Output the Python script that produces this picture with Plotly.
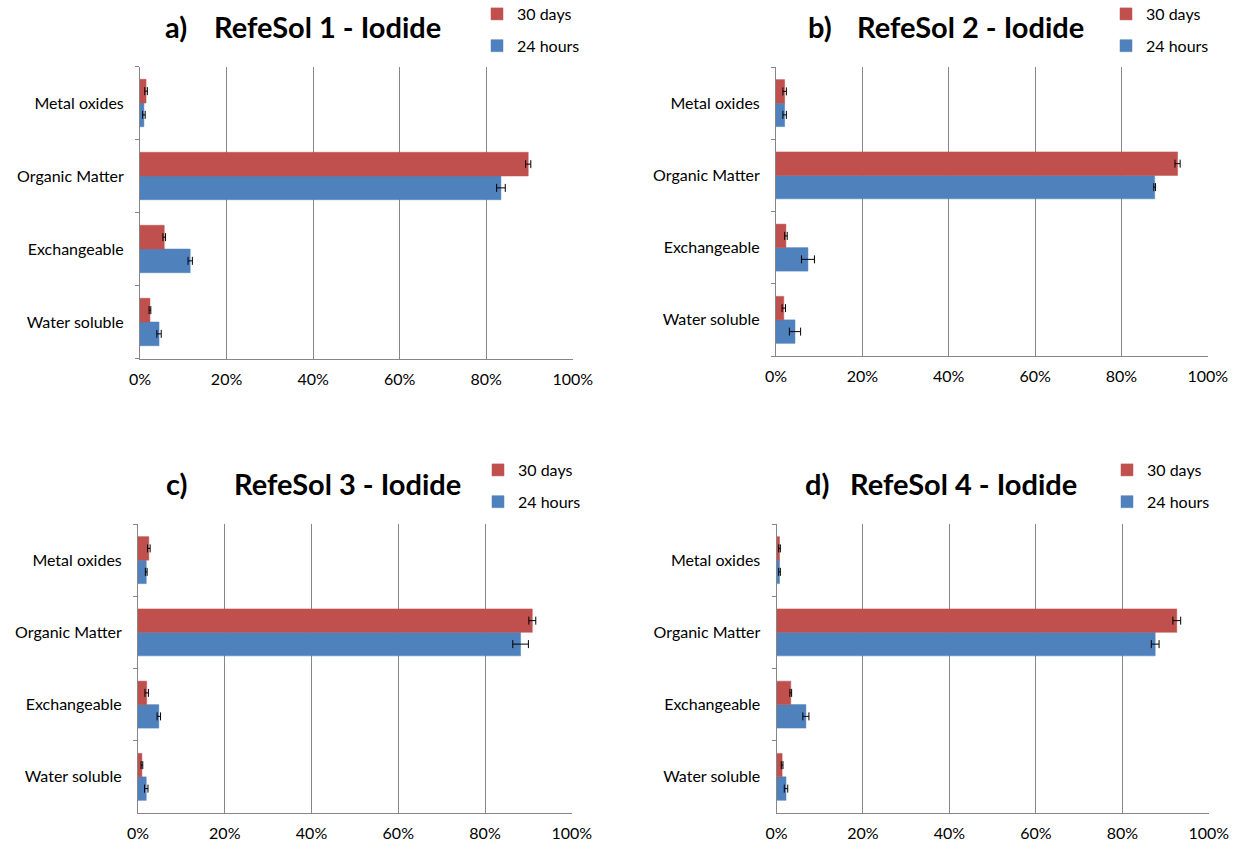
import plotly.graph_objects as go

W, H = 1245, 852

categories = ["Water soluble", "Exchangeable", "Organic Matter", "Metal oxides"]
series_names = ["24 hours", "30 days"]
panel_letters = ["a)", "b)", "c)", "d)"]
panel_titles = ["RefeSol 1 - Iodide", "RefeSol 2 - Iodide", "RefeSol 3 - Iodide", "RefeSol 4 - Iodide"]

# values in % (order follows categories)
a_24h = [4.4, 11.6, 83.4, 0.9]
a_30d = [2.3, 5.6, 89.7, 1.4]
a_24h_err = [0.5, 0.5, 1.0, 0.3]
a_30d_err = [0.2, 0.3, 0.6, 0.3]

b_24h = [4.4, 7.4, 87.7, 2.0]
b_30d = [1.8, 2.3, 93.0, 2.0]
b_24h_err = [1.3, 1.5, 0.2, 0.4]
b_30d_err = [0.4, 0.3, 0.6, 0.4]

c_24h = [1.9, 4.8, 88.2, 1.9]
c_30d = [0.9, 2.0, 90.9, 2.5]
c_24h_err = [0.4, 0.4, 1.8, 0.2]
c_30d_err = [0.2, 0.4, 0.8, 0.3]

d_24h = [2.2, 6.8, 87.6, 0.7]
d_30d = [1.3, 3.3, 92.6, 0.7]
d_24h_err = [0.4, 0.7, 0.9, 0.2]
d_30d_err = [0.2, 0.2, 0.9, 0.2]

x_ticks = [0, 20, 40, 60, 80, 100]
x_tick_labels = ["0%", "20%", "40%", "60%", "80%", "100%"]

panels = [
    (a_24h, a_24h_err, a_30d, a_30d_err),
    (b_24h, b_24h_err, b_30d, b_30d_err),
    (c_24h, c_24h_err, c_30d, c_30d_err),
    (d_24h, d_24h_err, d_30d, d_30d_err),
]

BLUE = "#4F81BD"
RED = "#C0504D"
GRID = "#868686"
FONT = "Lato"

# plot areas in pixels: (left, right, top, bottom)
boxes = [
    (140, 573, 66.5, 358.5),
    (776, 1208, 67, 356),
    (138, 572, 524, 813),
    (776.5, 1209, 524, 813),
]

fig = go.Figure()
layout = dict()
legend_keys = ["legend", "legend2", "legend3", "legend4"]
legend_pos = [(477, -3), (1106, -3), (478, 453), (1107, 453)]

for i, (v24, e24, v30, e30) in enumerate(panels):
    xa = "x" if i == 0 else f"x{i+1}"
    ya = "y" if i == 0 else f"y{i+1}"
    for name, vals, errs, col, grp, rank in [
        (series_names[0], v24, e24, BLUE, "g24", 2),
        (series_names[1], v30, e30, RED, "g30", 1),
    ]:
        fig.add_trace(go.Bar(
            y=categories, x=vals, orientation="h", name=name,
            marker=dict(color=col, line=dict(color=col, width=0.5)),
            error_x=dict(type="data", array=errs, visible=True,
                         color="#000000", thickness=1, width=4),
            xaxis=xa, yaxis=ya, legend=legend_keys[i], legendgroup=grp,
            legendrank=rank, showlegend=True,
        ))
    l, r, t, b = boxes[i]
    xk = "xaxis" if i == 0 else f"xaxis{i+1}"
    yk = "yaxis" if i == 0 else f"yaxis{i+1}"
    layout[xk] = dict(
        domain=[l / W, r / W], anchor=ya, range=[0, 100.05], automargin=False,
        tickmode="array", tickvals=x_ticks, ticktext=x_tick_labels,
        showgrid=True, gridcolor=GRID, gridwidth=1,
        showline=True, linecolor=GRID, linewidth=1, zeroline=False,
        ticks="", ticklabelstandoff=6,
        tickfont=dict(family=FONT, size=16, color="#000000"),
    )
    layout[yk] = dict(
        domain=[1 - b / H, 1 - t / H], anchor=xa, type="category", automargin=False,
        categoryorder="array", categoryarray=categories,
        showgrid=False, showline=True, linecolor=GRID, linewidth=1,
        ticks="outside", ticklen=4, tickcolor=GRID, tickson="boundaries",
        ticklabelstandoff=12,
        tickfont=dict(family=FONT, size=16, color="#000000"),
    )
    lx, ly = legend_pos[i]
    layout[legend_keys[i]] = dict(
        x=lx / W, y=1 - ly / H, xanchor="left", yanchor="top",
        traceorder="grouped", tracegroupgap=8,
        font=dict(family=FONT, size=16, color="#000000"),
        bgcolor="rgba(0,0,0,0)", itemwidth=30,
    )

annotations = []
letter_x = [163, 806, 164, 803]
title_x = [212, 855, 232, 848]
title_y = [27, 27, 483, 483]
for i in range(4):
    annotations.append(dict(text=f"<b>{panel_letters[i]}</b>", x=letter_x[i] / W, y=1 - title_y[i] / H,
                            xref="paper", yref="paper", xanchor="left", yanchor="middle",
                            showarrow=False, font=dict(family=FONT, size=29, color="#000000")))
    annotations.append(dict(text=f"<b>{panel_titles[i]}</b>", x=title_x[i] / W, y=1 - title_y[i] / H,
                            xref="paper", yref="paper", xanchor="left", yanchor="middle",
                            showarrow=False, font=dict(family=FONT, size=29, color="#000000")))

fig.update_layout(
    width=W, height=H, margin=dict(l=0, r=0, t=0, b=0, autoexpand=False),
    paper_bgcolor="white", plot_bgcolor="white",
    barmode="group", bargap=0.35, bargroupgap=0,
    annotations=annotations, **layout,
)

fig.write_html("out.html", config={"displayModeBar": False},
               post_script="document.body.style.margin='0';document.body.style.overflow='hidden';")
